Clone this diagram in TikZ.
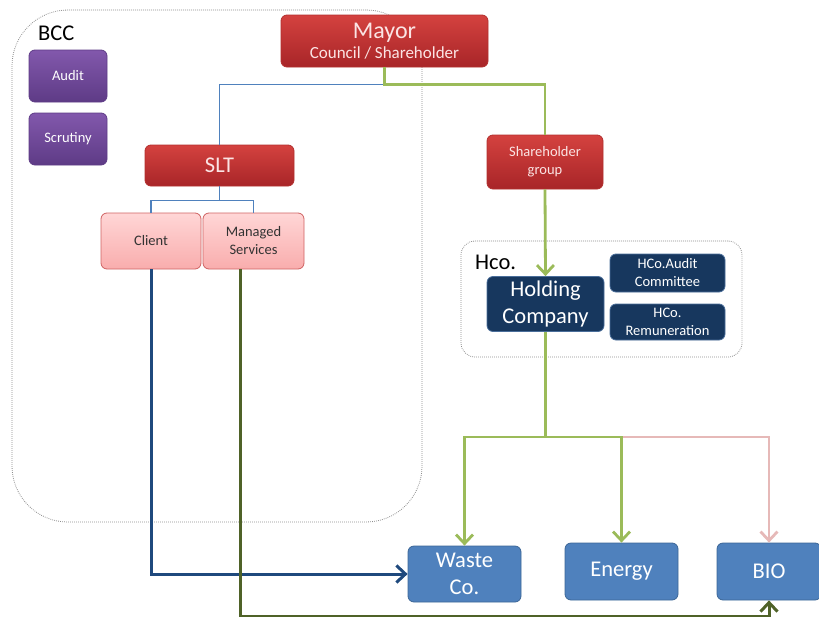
\documentclass[tikz,border=0pt]{standalone}
\usepackage{fontspec}
\setmainfont{Carlito}
\usepackage{tikz}
\usetikzlibrary{arrows.meta,calc,positioning}
\definecolor{redtop}{HTML}{D4423F}
\definecolor{redbot}{HTML}{A82528}
\definecolor{redline}{HTML}{B2302E}
\definecolor{redtext}{HTML}{FBE4E4}
\definecolor{purtop}{HTML}{8258AC}
\definecolor{purbot}{HTML}{5E3B86}
\definecolor{pinktop}{HTML}{FFD6D6}
\definecolor{pinkbot}{HTML}{F9ADAD}
\definecolor{pinkline}{HTML}{CF6262}
\definecolor{navy}{HTML}{17375E}
\definecolor{navyline}{HTML}{4A6E9A}
\definecolor{midblue}{HTML}{4F81BD}
\definecolor{midline}{HTML}{3C6696}
\definecolor{leaf}{HTML}{9BBB59}
\definecolor{rose}{HTML}{E6B9B8}
\definecolor{deepblue}{HTML}{1F497D}
\definecolor{olive}{HTML}{4F6228}

\begin{document}
\begin{tikzpicture}[x=1pt,y=-1pt,
    small/.style={font=\fontsize{14.5}{18}\selectfont},
    large/.style={font=\fontsize{22.5}{27}\selectfont},
    box/.style={rounded corners=6pt,align=center,inner sep=1pt,line width=0.8pt},
    redbox/.style={box,draw=redline,top color=redtop,bottom color=redbot,text=redtext},
    purplebox/.style={box,small,draw=purbot,top color=purtop,bottom color=purbot,text=white},
    pinkbox/.style={box,small,draw=pinkline,top color=pinktop,bottom color=pinkbot,text=black!80},
    navybox/.style={box,draw=navyline,fill=navy,text=white},
    bluebox/.style={box,large,draw=midline,fill=midblue,text=white},
    frame/.style={draw=black!45,line width=0.8pt,dash pattern=on 0.8pt off 1.2pt},
    tip/.style={-{Straight Barb[length=9pt,width=17pt]}},
    bluelink/.style={draw=midblue,line width=1.3pt},
    greenlink/.style={draw=leaf,line width=2.8pt},
    roselink/.style={draw=rose,line width=2.8pt},
    clientlink/.style={draw=deepblue,line width=3pt},
    olivelink/.style={draw=olive,line width=3pt}]
  \useasboundingbox (0,0) rectangle (819,616);

  % containers
  \node[frame,rounded corners=56pt,minimum width=410pt,minimum height=512pt] (bcc) at (217,266) {};
  \node[large,anchor=west,inner sep=0pt] (bcclabel) at (38,33) {BCC};
  \node[frame,rounded corners=14pt,minimum width=281pt,minimum height=116pt] (hco) at (601.5,299) {};
  \node[large,anchor=west,inner sep=0pt] (hcolabel) at (475,262) {Hco.};

  % council side
  \node[purplebox,minimum width=78pt,minimum height=52pt] (audit) at (68,76) {Audit};
  \node[purplebox,minimum width=78pt,minimum height=52pt] (scrutiny) at (68,139) {Scrutiny};
  \node[redbox,minimum width=207pt,minimum height=52pt] (mayor) at (384.5,41)
    {{\fontsize{24}{23}\selectfont Mayor}\\[3pt]{\fontsize{17}{18}\selectfont Council / Shareholder}};
  \node[redbox,large,minimum width=149pt,minimum height=41pt] (slt) at (219.5,165.5) {SLT};
  \node[pinkbox,minimum width=100pt,minimum height=56pt] (client) at (151,241) {Client};
  \node[pinkbox,minimum width=101pt,minimum height=56pt] (managed) at (253.5,241) {Managed\\Services};

  % company side
  \node[redbox,small,minimum width=116pt,minimum height=54pt] (shgroup) at (545,162) {Shareholder\\group};
  \node[navybox,large,minimum width=117pt,minimum height=55pt] (holding) at (545.5,304) {Holding\\Company};
  \node[navybox,small,minimum width=115pt,minimum height=38pt] (hcoaudit) at (667.5,273) {HCo.Audit\\Committee};
  \node[navybox,small,minimum width=115pt,minimum height=36pt] (hcorem) at (667.5,322) {HCo.\\Remuneration};
  \node[bluebox,minimum width=113pt,minimum height=56pt] (waste) at (464.5,574) {Waste\\Co.};
  \node[bluebox,minimum width=113pt,minimum height=57pt] (energy) at (621.5,571.5) {Energy};
  \node[bluebox,minimum width=104pt,minimum height=57pt] (bio) at (769,571.5) {BIO};

  % links
  \draw[bluelink] (mayor.south) -- ++(0,17) coordinate (mayorsplit) -| (slt.north);
  \draw[greenlink] (mayor.south) -- (mayorsplit) -| (shgroup.north);
  \draw[bluelink] (slt.south) -- ++(0,14) coordinate (sltsplit) -| (client.north);
  \draw[bluelink] (sltsplit) -| (managed.north);
  \draw[greenlink,tip] (shgroup.south) -- (holding.north);
  \draw[roselink,tip] ($(holding.south)+(76,105)$) -| (bio.north);
  \draw[greenlink] (holding.south) -- ++(0,105) coordinate (holdsplit);
  \draw[greenlink,tip] (holdsplit) -| (waste.north);
  \draw[greenlink,tip] (holdsplit) -| (energy.north);
  \draw[clientlink,tip] (client.south) |- (waste.west);
  \coordinate (floor) at (0,616);
  \draw[olivelink,tip] ([xshift=-13pt]managed.south) |- (floor -| bio.south) -- (bio.south);
\end{tikzpicture}
\end{document}
